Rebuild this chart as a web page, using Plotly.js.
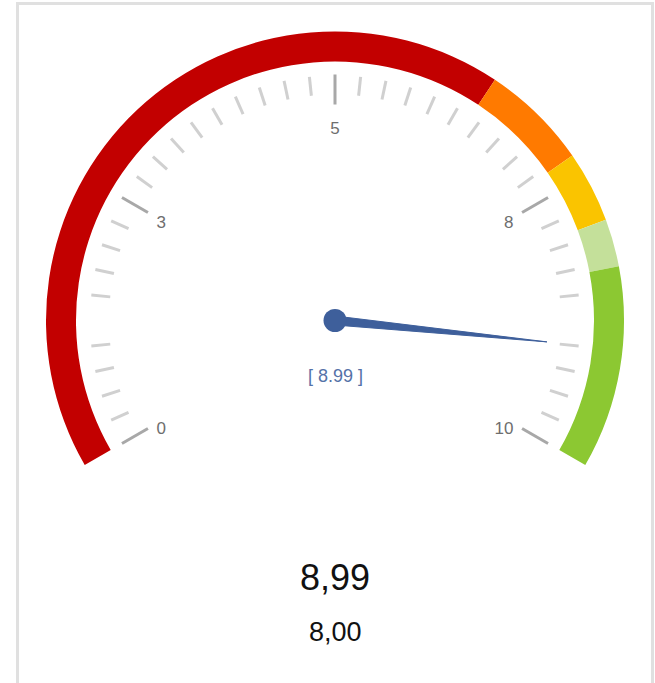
<!DOCTYPE html>
<html><head><meta charset="utf-8">
<script src="https://cdn.plot.ly/plotly-3.0.1.min.js"></script>
<style>html,body{margin:0;padding:0;background:#fff}#chart{width:655px;height:683px}</style>
</head><body><div id="chart"></div>
<script>
// ---- data ----
const gaugeMin = 0, gaugeMax = 10;
const gaugeValue = 8.99;
const targetValue = 8.00;
const bandStarts = [0, 6.4, 7.3, 7.9, 8.3];
const bandEnds   = [6.4, 7.3, 7.9, 8.3, 10];
const bandColors = ['#c20000', '#ff7a00', '#fac400', '#c4e09a', '#8cc832'];
const majorTickVals   = [0, 2.5, 5, 7.5, 10];
const majorTickLabels = ['0', '3', '5', '8', '10'];
const minorStep = 0.25;
const skippedTicks = [1.25, 8.75];

// ---- scale: value -> angular degrees on a 240° dial ----
const SPAN = 240;
const deg = v => (v - gaugeMin) / (gaugeMax - gaugeMin) * SPAN;

// ---- styling constants (px in radial units) ----
const R_BAND_IN = 259, BAND_W = 30;
const MINOR_R = [226, 245], MAJOR_R = [216, 246];
const LABEL_R = 206;
const NEEDLE_LEN = 213, NEEDLE_HALF = 4.5;
const NEEDLE_COLOR = '#3e5f9b';

const traces = [];

// color bands
traces.push({
  type: 'barpolar',
  theta: bandStarts.map((s, i) => deg((s + bandEnds[i]) / 2)),
  width: bandStarts.map((s, i) => deg(bandEnds[i]) - deg(s)),
  r: bandStarts.map(() => BAND_W),
  base: bandStarts.map(() => R_BAND_IN),
  marker: {color: bandColors, line: {width: 0}},
  hoverinfo: 'skip', showlegend: false
});

// minor ticks
const minorTh = [], minorR = [];
const nSteps = Math.round((gaugeMax - gaugeMin) / minorStep);
for (let i = 0; i <= nSteps; i++) {
  const v = gaugeMin + i * minorStep;
  if (majorTickVals.some(m => Math.abs(m - v) < 1e-9)) continue;
  if (skippedTicks.some(m => Math.abs(m - v) < 1e-9)) continue;
  minorTh.push(deg(v), deg(v), null);
  minorR.push(MINOR_R[0], MINOR_R[1], null);
}
traces.push({
  type: 'scatterpolar', mode: 'lines', theta: minorTh, r: minorR,
  line: {color: '#d0d0d0', width: 3}, hoverinfo: 'skip', showlegend: false
});

// major ticks
const majTh = [], majR = [];
majorTickVals.forEach(v => { majTh.push(deg(v), deg(v), null); majR.push(MAJOR_R[0], MAJOR_R[1], null); });
traces.push({
  type: 'scatterpolar', mode: 'lines', theta: majTh, r: majR,
  line: {color: '#a8a8a8', width: 3}, hoverinfo: 'skip', showlegend: false
});

// tick labels
const mid = (gaugeMin + gaugeMax) / 2;
traces.push({
  type: 'scatterpolar', mode: 'text', subplot: 'polar2',
  theta: majorTickVals.map(deg),
  r: majorTickVals.map(() => LABEL_R),
  text: majorTickLabels,
  textposition: majorTickVals.map(v => v < mid ? 'middle right' : (v > mid ? 'middle left' : 'bottom center')),
  textfont: {family: 'Liberation Sans, Arial, sans-serif', size: 17, color: '#6e6e6e'},
  hoverinfo: 'skip', showlegend: false
});

// needle
const a = deg(gaugeValue);
traces.push({
  type: 'scatterpolar', mode: 'lines', fill: 'toself',
  theta: [a - 90, a, a + 90, a - 90],
  r: [NEEDLE_HALF, NEEDLE_LEN, NEEDLE_HALF, NEEDLE_HALF],
  line: {color: NEEDLE_COLOR, width: 1}, fillcolor: NEEDLE_COLOR,
  hoverinfo: 'skip', showlegend: false
});
traces.push({
  type: 'scatterpolar', mode: 'markers', theta: [0], r: [0],
  marker: {color: NEEDLE_COLOR, size: 23, line: {width: 0}},
  hoverinfo: 'skip', showlegend: false
});

const W = 655, H = 683, CX = 335, CY = 320.5, RAD = 290;
// dy > 0 moves the subplot down
const polarBase = (dy) => ({
  domain: {x: [(CX - RAD) / W, (CX + RAD) / W], y: [(H - CY - dy - RAD) / H, (H - CY - dy + RAD) / H]},
  hole: 0,
  bgcolor: 'rgba(0,0,0,0)',
  radialaxis: {range: [0, RAD], visible: false, showgrid: false, showline: false, showticklabels: false, ticks: ''},
  angularaxis: {thetaunit: 'degrees', rotation: 210, direction: 'clockwise', visible: false,
                showgrid: false, showline: false, showticklabels: false, ticks: ''}
});

const fmtComma = v => v.toFixed(2).replace('.', ',');
const font = 'Liberation Sans, Arial, sans-serif';

const layout = {
  width: W, height: H,
  margin: {l: 0, r: 0, t: 0, b: 0},
  paper_bgcolor: '#ffffff',
  showlegend: false,
  polar: polarBase(0),
  polar2: polarBase(6.5),
  shapes: [{
    type: 'rect', xref: 'paper', yref: 'paper',
    x0: 17.5 / W, x1: 652.5 / W, y0: -0.02, y1: 1 - 3.5 / H,
    line: {color: '#e0e0e0', width: 3}, fillcolor: 'rgba(0,0,0,0)', layer: 'below'
  }],
  annotations: [
    {xref: 'paper', yref: 'paper', x: CX / W, y: 1 - 376 / H, xanchor: 'center', yanchor: 'middle',
     text: '[ ' + gaugeValue.toFixed(2) + ' ]', showarrow: false,
     font: {family: font, size: 18, color: '#5572a8'}},
    {xref: 'paper', yref: 'paper', x: CX / W, y: 1 - 577.5 / H, xanchor: 'center', yanchor: 'middle',
     text: fmtComma(gaugeValue), showarrow: false,
     font: {family: font, size: 36, color: '#111111'}},
    {xref: 'paper', yref: 'paper', x: CX / W, y: 1 - 632 / H, xanchor: 'center', yanchor: 'middle',
     text: fmtComma(targetValue), showarrow: false,
     font: {family: font, size: 27, color: '#111111'}}
  ]
};

Plotly.newPlot('chart', traces, layout, {staticPlot: true, displayModeBar: false});
</script>
</body></html>
